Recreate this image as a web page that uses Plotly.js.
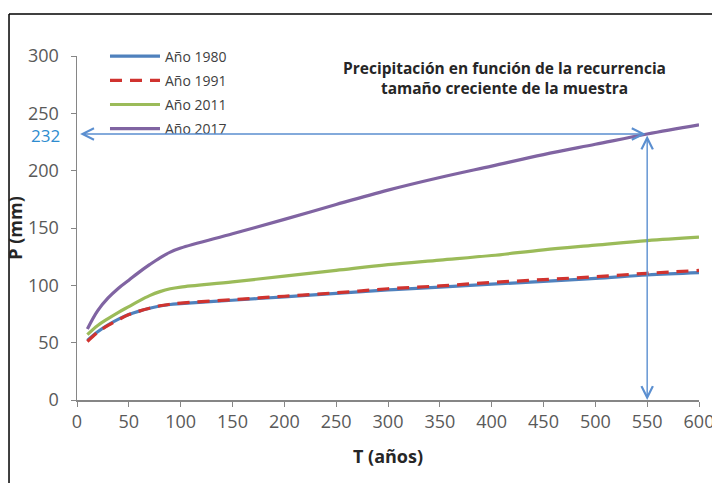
<!DOCTYPE html>
<html>
<head>
<meta charset="utf-8">
<script src="https://cdn.plot.ly/plotly-3.0.1.min.js"></script>
<style>html,body{margin:0;padding:0;background:#fff;}#chart{width:712px;height:483px;}</style>
</head>
<body>
<div id="chart"></div>
<script>
const T = [10,20,30,40,50,60,70,80,90,100,150,200,250,300,350,400,450,500,550,600];
const P1980 = [52,59.5,65.5,70.5,74.5,77.5,80,82,83.3,84,87,90,93,96,98.5,101,103.5,106,109,111];
const P1991 = [51,59,65,70,74.5,77.5,80,82.2,83.5,84.5,87.5,90.5,93.5,97,99.5,102.5,105,107.5,110.5,113];
const P2011 = [57,65,71,76.5,81.5,86.5,91,94.5,97,98.5,103,108,113,118,122,126,131,135,139,142];
const P2017 = [62,78,89,97.5,104.5,111.5,118,124,129,132.5,145,157.5,170.5,183,194,204,214,223,232,240];
const seriesNames = ['Año 1980','Año 1991','Año 2011','Año 2017'];
const refT = 550, refP = 232;

const fontFam = '"Open Sans", "Liberation Sans", sans-serif';
function tr(y, name, color, dash, g){
  return {x:T, y:y, name:name, type:'scatter', mode:'lines', legendgroup:g,
    line:{color:color, width:3.2, dash:dash, shape:'spline', smoothing:1}};
}
const data = [
  tr(P1980, seriesNames[0], '#4f81bd', 'solid','a'),
  tr(P1991, seriesNames[1], '#d0332f', '12px,8px','b'),
  tr(P2011, seriesNames[2], '#9bbb59', 'solid','c'),
  tr(P2017, seriesNames[3], '#8064a2', 'solid','d')
];
const arrowColor = '#5b8fd0';
const layout = {
  width:712, height:483,
  margin:{l:77, r:13, t:56, b:83},
  paper_bgcolor:'#fff', plot_bgcolor:'#fff',
  font:{family:fontFam, color:'#595959', size:18},
  showlegend:true,
  legend:{x:0.045, y:1.045, xanchor:'left', yanchor:'top', bgcolor:'rgba(0,0,0,0)',
    font:{size:14, color:'#404040', family:fontFam}, tracegroupgap:3, itemwidth:50},
  xaxis:{range:[0,600], dtick:50, tick0:0, showgrid:false, zeroline:false,
    showline:true, linecolor:'#868686', linewidth:1.5, ticks:'outside', ticklen:5, tickcolor:'#868686',
    ticklabeloverflow:'allow',
    tickfont:{size:18, color:'#595959'},
    title:{text:'<b>T (años)</b>', font:{size:18, color:'#262626'}, standoff:18}},
  yaxis:{range:[0,300], dtick:50, tick0:0, showgrid:false, zeroline:false,
    showline:true, linecolor:'#868686', linewidth:1.5, ticks:'outside', ticklen:5, tickcolor:'#868686',
    ticklabelstandoff:8,
    tickfont:{size:18, color:'#595959'},
    title:{text:'<b>P (mm)</b>', font:{size:18, color:'#262626'}, standoff:0}},
  annotations:[
    {xref:'paper', yref:'paper', x:0.688, y:0.936, xanchor:'center', yanchor:'middle', showarrow:false,
     text:'<b>Precipitación en función de la recurrencia</b><br><b>tamaño creciente de la muestra</b>',
     font:{size:15.5, color:'#262626', family:fontFam}, align:'center'},
    {xref:'x', yref:'y', x:3, y:refP, axref:'x', ayref:'y', ax:refT, ay:refP, text:'', showarrow:true,
     arrowhead:5, startarrowhead:5, arrowside:'end+start', arrowsize:1.6, startarrowsize:1.6, arrowwidth:1.4, arrowcolor:arrowColor},
    {xref:'x', yref:'y', x:refT, y:0, axref:'x', ayref:'y', ax:refT, ay:refP, text:'', showarrow:true,
     arrowhead:5, startarrowhead:5, arrowside:'end+start', arrowsize:1.6, startarrowsize:1.6, arrowwidth:1.4, arrowcolor:arrowColor},
    {xref:'paper', yref:'y', x:0, y:refP, xanchor:'right', yanchor:'middle', xshift:-15, yshift:-2, showarrow:false,
     text:String(refP), font:{size:17, color:'#2e8ccf', family:fontFam}}
  ],
  shapes:[
    {type:'line', xref:'paper', yref:'paper', x0:-0.1093, x1:-0.1093, y0:1.122, y1:-0.3, line:{color:'#000', width:1.5}},
    {type:'line', xref:'paper', yref:'paper', x0:-0.1093, x1:1.1, y0:1.122, y1:1.122, line:{color:'#000', width:1.5}}
  ]
};
Plotly.newPlot('chart', data, layout, {staticPlot:true});
</script>
</body>
</html>
